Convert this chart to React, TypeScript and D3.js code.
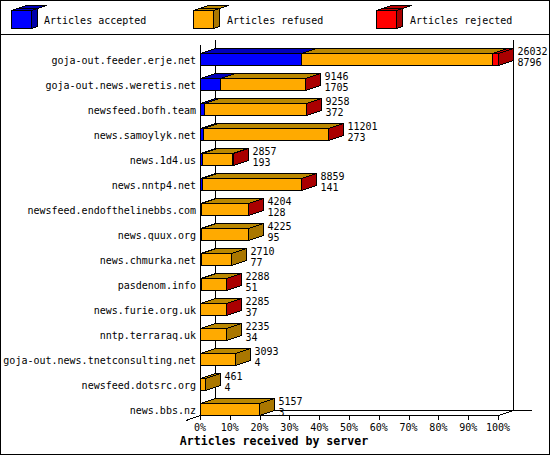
import React from "react";
import * as d3 from "d3";

const servers = ["goja-out.feeder.erje.net","goja-out.news.weretis.net","newsfeed.bofh.team","news.samoylyk.net","news.1d4.us","news.nntp4.net","newsfeed.endofthelinebbs.com","news.quux.org","news.chmurka.net","pasdenom.info","news.furie.org.uk","nntp.terraraq.uk","goja-out.news.tnetconsulting.net","newsfeed.dotsrc.org","news.bbs.nz"];
const received = [26032,9146,9258,11201,2857,8859,4204,4225,2710,2288,2285,2235,3093,461,5157];
const accepted = [8796,1705,372,273,193,141,128,95,77,51,37,34,4,4,3];
const rejected = [520,10,12,15,70,12,6,0,0,4,5,0,0,0,0];
const ticks = [0,10,20,30,40,50,60,70,80,90,100];
const legendLabels = ["Articles accepted","Articles refused","Articles rejected"];
const legendX = [11,193,376];
const legendTextX = [44,227,410];

const front = ["#0000FF","#FFAA00","#FF0000"];
const topC = ["#0000BB","#BB8800","#BB0000"];
const sideC = ["#0000AA","#AA7700","#AA0000"];
const DX = 15, DY = 5;
const font = "'DejaVu Sans Mono', 'Liberation Mono', monospace";

const maxV = d3.max(received) as number;
const x = d3.scaleLinear().domain([0,100]).range([200,498]);
const px = (v:number)=>Math.round(x(v/maxV*100))+0.5;
const y = d3.scaleBand<number>().domain(d3.range(servers.length)).range([45,420]);
const barTop = (i:number)=>Math.round((y(i) as number)+8)+0.5;
const BH = 12;

function Box({x0,x1,y0,h,i,side}:{x0:number,x1:number,y0:number,h:number,i:number,side:boolean}){
  return <g stroke="#000" strokeLinejoin="miter">
    <path d={`M${x0},${y0}l${DX},${-DY}H${x1+DX}l${-DX},${DY}Z`} fill={topC[i]}/>
    {side && <path d={`M${x1},${y0}l${DX},${-DY}v${h}l${-DX},${DY}Z`} fill={sideC[i]}/>}
    <rect x={x0} y={y0} width={x1-x0} height={h} fill={front[i]}/>
  </g>;
}

export default function App(){
  return <svg width={550} height={455} style={{position:"absolute",left:0,top:0,background:"#fff"}} shapeRendering="crispEdges" fontFamily={font} fontSize={10}>
    <rect x={0.5} y={0.5} width={549} height={454} fill="#fff" stroke="#000"/>
    <line x1={0} x2={550} y1={34.5} y2={34.5} stroke="#000"/>
    {legendLabels.map((t,i)=><g key={t}>
      <Box x0={legendX[i]+0.5} x1={legendX[i]+20.5} y0={10.5} h={18} i={i} side={false}/>
      <path d={`M${legendX[i]+20.5},10.5l6,-2v18l-6,2Z`} fill={sideC[i]} stroke="#000"/>
      <path d={`M${legendX[i]+0.5},10.5l6,-2h20l-6,2Z`} fill={topC[i]} stroke="#000"/>
      <text x={legendTextX[i]} y={24} fill="#000">{t}</text>
    </g>)}
    <g stroke="#000" fill="none">
      <line x1={200.5} x2={200.5} y1={45} y2={420}/>
      <line x1={215.5} x2={215.5} y1={40} y2={410}/>
      <line x1={513.5} x2={513.5} y1={40} y2={410}/>
      <line x1={215} x2={532} y1={410.5} y2={410.5}/>
      <line x1={186} x2={200.5} y1={420.5} y2={415.5}/>
      <line x1={498.5} x2={513.5} y1={415.5} y2={410.5}/>
      <line x1={200} x2={498} y1={415.5} y2={415.5}/>
      {ticks.map(t=><line key={t} x1={Math.round(x(t))+0.5} x2={Math.round(x(t))+0.5} y1={415} y2={420}/>)}
    </g>
    {servers.map((s,i)=>{
      const t = barTop(i);
      const refused = received[i]-accepted[i]-rejected[i];
      const stops = [accepted[i],accepted[i]+refused,received[i]];
      const ends = stops.map(px);
      const last = rejected[i]>0?2:1;
      return <g key={s}>
        <text x={196} y={t+10} textAnchor="end">{s}</text>
        {[0,1,2].map(k=>{
          const a = k===0?px(0):ends[k-1];
          if(ends[k]<=a && k!==last) return null;
          return <Box key={k} x0={a} x1={ends[k]} y0={t} h={BH} i={k} side={k===last}/>;
        })}
        <text x={ends[2]+DX+4} y={t+1}>{received[i]}</text>
        <text x={ends[2]+DX+4} y={t+12}>{accepted[i]}</text>
      </g>;
    })}
    {ticks.map(t=><text key={t} x={x(t)} y={431} textAnchor="middle">{t}%</text>)}
    <text x={274} y={445} textAnchor="middle" fontWeight="bold" fontSize={11.6}>Articles received by server</text>
  </svg>;
}
